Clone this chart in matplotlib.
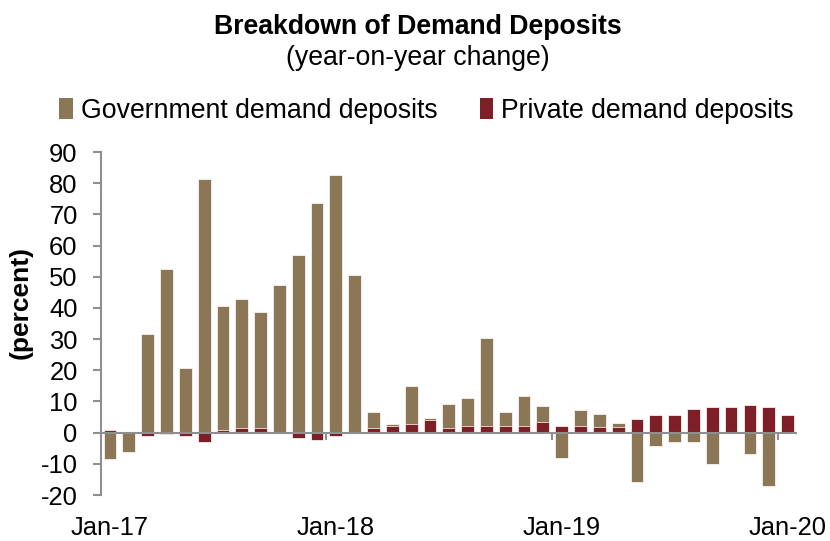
import numpy as np
import matplotlib
matplotlib.use("Agg")
import matplotlib.pyplot as plt
from matplotlib.patches import Patch

plt.rcParams['font.family'] = ['Liberation Sans', 'DejaVu Sans']
plt.rcParams['axes.unicode_minus'] = False

# %% Data (year-on-year change, percent), Jan-17 .. Jan-20
months = [f"{m}-{y}" for y in (17, 18, 19) for m in
          ("Jan", "Feb", "Mar", "Apr", "May", "Jun", "Jul", "Aug", "Sep", "Oct", "Nov", "Dec")] + ["Jan-20"]
government = [-8.6, -6.1, 31.6, 52.6, 20.7, 81.3, 40.6, 43.0, 38.6, 47.5, 57.1, 73.7,
              82.6, 50.7, 6.6, 2.9, 15.1, 4.8, 9.3, 11.2, 30.3, 6.7, 11.9, 8.6,
              -8.0, 7.2, 5.9, 3.2, -15.8, -4.4, -3.0, -3.0, -10.0, 2.0, -6.8, -17.1,
              1.0]
private = [0.8, 0.2, -1.0, -0.4, -1.0, -2.9, 0.8, 1.6, 1.6, 0.2, -1.6, -2.3,
           -1.0, 0.3, 1.5, 2.0, 2.8, 4.0, 1.5, 2.1, 2.1, 2.1, 2.1, 3.4,
           2.2, 2.0, 1.8, 1.8, 4.5, 5.8, 5.8, 7.7, 8.3, 8.3, 9.0, 8.3,
           5.8]
label_months = ["Jan-17", "Jan-18", "Jan-19", "Jan-20"]

gov_color = "#8B7755"
priv_color = "#7E1F28"
axis_gray = "#8F8F8F"

# %% Plot
fig = plt.figure(figsize=(8.3, 5.41), dpi=100)
ax = fig.add_axes([0.1212, 0.085, 0.8390, 0.634])

x = np.arange(len(months))
ax.bar(x, government, width=0.68, color=gov_color, edgecolor="white", linewidth=0.5, zorder=2)
ax.bar(x, private, width=0.68, color=priv_color, edgecolor="white", linewidth=0.5, zorder=3)

ax.set_xlim(-0.5, len(months) - 0.5)
ax.set_ylim(-20, 90)
ax.set_yticks(np.arange(-20, 91, 10))
ax.tick_params(axis="y", length=6, width=1.5, color=axis_gray, pad=10.5, labelsize=18.4)

for s in ("top", "right", "bottom"):
    ax.spines[s].set_visible(False)
ax.spines["left"].set_color(axis_gray)
ax.spines["left"].set_linewidth(1.5)

# zero line with year-boundary tick marks
ax.axhline(0, color=axis_gray, linewidth=1.5, zorder=4)
ax.vlines([11.5, 23.5, 35.5], -2.4, 0, color=axis_gray, linewidth=1.5, zorder=4)

ax.set_xticks([months.index(m) for m in label_months])
ax.set_xticklabels(label_months)
ax.tick_params(axis="x", length=0, pad=15, labelsize=18.4)

ax.set_ylabel("(percent)", fontsize=19, fontweight="bold")
ax.yaxis.set_label_coords(-0.097, 0.56)

fig.text(0.503, 0.95, "Breakdown of Demand Deposits", ha="center", va="center",
         fontsize=19.2, fontweight="bold")
fig.text(0.503, 0.893, "(year-on-year change)", ha="center", va="center", fontsize=19.2)

handles = [Patch(facecolor=gov_color), Patch(facecolor=priv_color)]
fig.legend(handles, ["Government demand deposits", "Private demand deposits"],
           loc="center", bbox_to_anchor=(0.514, 0.795), ncol=2, frameon=False,
           fontsize=19.2, handlelength=0.5, handleheight=0.8, handletextpad=0.3,
           columnspacing=1.6, borderpad=0)

fig.savefig("out.png", dpi=100)
